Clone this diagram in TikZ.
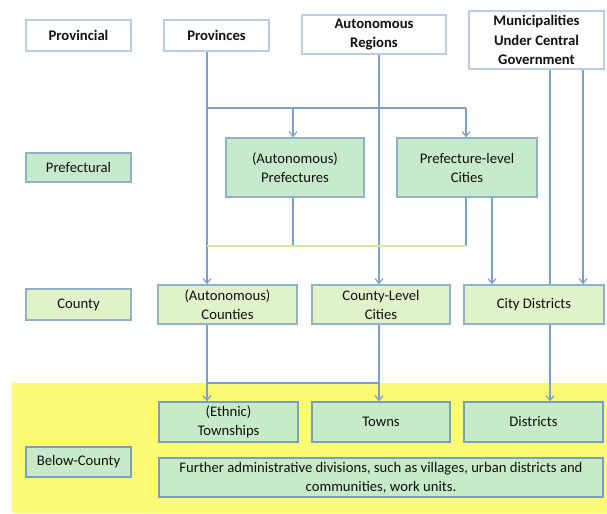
\documentclass[tikz,border=0pt]{standalone}
\usepackage{fontspec}
\setmainfont{Carlito}
\usetikzlibrary{arrows.meta}
\definecolor{lineblue}{HTML}{7EA0C8}
\definecolor{ylwline}{HTML}{D8E79A}
\definecolor{wborder}{HTML}{B9CDE5}
\definecolor{gborder}{HTML}{8FB2C6}
\definecolor{bborder}{HTML}{7B9DC4}
\definecolor{prefill}{HTML}{C6EACB}
\definecolor{cntfill}{HTML}{DFF2C9}
\definecolor{belfill}{HTML}{C7EAC9}
\definecolor{band}{HTML}{FDFA74}
\definecolor{txt}{HTML}{111111}
\tikzset{
  box/.style={draw, line width=1.2pt, align=center, inner sep=1pt, text=txt,
    font=\fontsize{11pt}{14.25pt}\selectfont},
  topbox/.style={box, draw=wborder, fill=white, font=\fontsize{11pt}{14.5pt}\selectfont\bfseries},
  prefbox/.style={box, draw=gborder, fill=prefill},
  cntbox/.style={box, draw=gborder, fill=cntfill},
  belbox/.style={box, draw=bborder, fill=belfill},
  conn/.style={draw=lineblue, line width=0.9pt},
  yconn/.style={draw=ylwline, line width=0.9pt},
  arr/.style={conn, -{Straight Barb[length=3.5pt,width=6pt]}},
}
\begin{document}
\begin{tikzpicture}[x=0.75pt,y=-0.75pt]
\useasboundingbox (0,0) rectangle (607,514);
\fill[band] (12,383) rectangle (607,513);
% top row
\node[topbox, minimum width=78.75pt, minimum height=23.25pt] (prov) at (78.5,35.5) {Provincial};
\node[topbox, minimum width=78.75pt, minimum height=23.25pt] (provs) at (216.5,35.5) {Provinces};
\node[topbox, minimum width=108pt, minimum height=29.25pt] (autreg) at (374,34.5) {Autonomous\\Regions};
\node[topbox, minimum width=101.25pt, minimum height=43.5pt] (muni) at (536.5,40) {Municipalities\\Under Central\\Government};
% prefectural row
\node[prefbox, minimum width=78.75pt, minimum height=21.75pt] (pref) at (78.5,167.5) {Prefectural};
\node[prefbox, minimum width=103.5pt, minimum height=44.25pt] (apref) at (295,167.5) {(Autonomous)\\Prefectures};
\node[prefbox, minimum width=105pt, minimum height=44.25pt] (plc) at (467,167.5) {Prefecture-level\\Cities};
% county row
\node[cntbox, minimum width=78.75pt, minimum height=23.25pt] (county) at (78.5,304.5) {County};
\node[cntbox, minimum width=104.25pt, minimum height=29.25pt] (acounty) at (227.5,304.5) {(Autonomous)\\Counties};
\node[cntbox, minimum width=103.5pt, minimum height=29.25pt] (clc) at (381,304.5) {County-Level\\Cities};
\node[cntbox, minimum width=105pt, minimum height=29.25pt] (cdist) at (534,304.5) {City Districts};
% below-county row
\node[belbox, minimum width=104.25pt, minimum height=30pt] (town) at (228.5,422) {(Ethnic)\\Townships};
\node[belbox, minimum width=103.5pt, minimum height=30pt] (towns) at (381,422) {Towns};
\node[belbox, minimum width=104.25pt, minimum height=30pt] (dists) at (533.5,422) {Districts};
\node[belbox, minimum width=78.75pt, minimum height=22.5pt] (below) at (78.5,462) {Below-County};
\node[belbox, minimum width=333pt, minimum height=29.25pt] (further) at (381,477.5) {Further administrative divisions, such as villages, urban districts and\\communities, work units.};
% x positions of connectors
\coordinate (xa) at (207,0);
\coordinate (xb) at (293,0);
\coordinate (xc) at (379,0);
\coordinate (xd) at (466,0);
\coordinate (xe) at (492,0);
\coordinate (xf) at (550,0);
\coordinate (xg) at (583,0);
\coordinate (ya) at (0,108);
\coordinate (yb) at (0,246);
\coordinate (yc) at (0,383);
% provinces / autonomous regions to prefectures
\draw[arr] (provs.south -| xa) -- (acounty.north -| xa);
\draw[conn] (ya -| xa) -- (ya -| xd);
\draw[arr] (ya -| xb) -- (apref.north -| xb);
\draw[arr] (ya -| xd) -- (plc.north -| xd);
\draw[arr] (autreg.south -| xc) -- (clc.north -| xc);
% prefectures to counties
\draw[conn] (apref.south -| xb) -- (yb -| xb);
\draw[conn] (plc.south -| xd) -- (yb -| xd);
\draw[yconn] (yb -| xa) -- (yb -| xd);
\draw[arr] (plc.south -| xe) -- (cdist.north -| xe);
% municipalities
\draw[conn] (muni.south -| xf) -- (cdist.north -| xf);
\draw[arr] (muni.south -| xg) -- (cdist.north -| xg);
% counties to below-county
\draw[arr] (acounty.south -| xa) -- (town.north -| xa);
\draw[arr] (clc.south -| xc) -- (towns.north -| xc);
\draw[conn] (yc -| xa) -- (yc -| xc);
\draw[arr] (cdist.south -| xf) -- (dists.north -| xf);
\end{tikzpicture}
\end{document}
